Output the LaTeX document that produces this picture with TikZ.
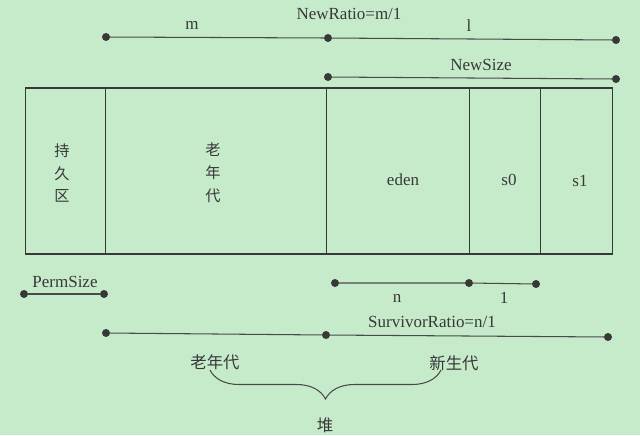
\documentclass[tikz,border=0pt]{standalone}
\usepackage{fontspec}
\setmainfont{Liberation Serif}
\newfontfamily\cjk{Noto Sans CJK SC}
\usetikzlibrary{positioning,decorations.pathreplacing}
\definecolor{bggreen}{HTML}{C6EBCB}
\definecolor{ink}{HTML}{383838}
\definecolor{rule}{HTML}{4A4A4A}

\begin{document}
\begin{tikzpicture}
  [x=0.03cm,y=-0.03cm,
   every node/.style={inner sep=0pt,text=ink},
   cell/.style={draw=ink,line width=1pt,minimum height=4.98cm,outer sep=0pt,anchor=north west},
   dot/.style={circle,fill=ink,minimum size=0.24cm},
   span/.style={draw=rule,line width=0.9pt},
   lbl/.style={font=\fontsize{14.5}{17}\selectfont},
   zh/.style={font=\fontsize{14}{16}\selectfont\cjk},
   zhcol/.style={align=center,font=\fontsize{13}{19.5}\selectfont\cjk}]

  \fill[bggreen] (0,0) rectangle (640,435);
  \useasboundingbox (0,0) rectangle (640,435);

  % NewRatio
  \node[dot] (m0) at (106,37) {};
  \node[dot] (m1) at (328,38) {};
  \node[dot] (m2) at (616,40) {};
  \draw[span] (m0) -- (m1) -- (m2);
  \node[lbl] (newratio) at (349,14) {NewRatio=m/1};
  \node[lbl] (mlbl) at (192,25) {m};
  \node[lbl] (llbl) at (469,26) {l};

  % NewSize
  \node[dot] (ns0) at (328,77) {};
  \node[dot] (ns1) at (616,79) {};
  \draw[span] (ns0) -- (ns1);
  \node[lbl] (newsize) at (481,65) {NewSize};

  % heap
  \node[cell,minimum width=2.4cm] (perm) at (25.5,88) {};
  \node[cell,minimum width=6.63cm,right=0pt of perm] (old) {};
  \node[cell,minimum width=4.29cm,right=0pt of old] (eden) {};
  \node[cell,minimum width=2.13cm,right=0pt of eden] (szero) {};
  \node[cell,minimum width=2.16cm,right=0pt of szero] (sone) {};

  \node[zhcol] (permlbl) at (62,173) {持\\久\\区};
  \node[zhcol] (oldlbl) at (213,173) {老\\年\\代};
  \node[lbl] (edenlbl) at (403,180) {eden};
  \node[lbl] (szerolbl) at (509,180) {s0};
  \node[lbl] (sonelbl) at (580,181) {s1};

  % PermSize
  \node[dot] (p0) at (24,294) {};
  \node[dot] (p1) at (104,294) {};
  \draw[span] (p0) -- (p1);
  \node[lbl] (permsize) at (65,282) {PermSize};

  % n : 1
  \node[dot] (n0) at (335,283) {};
  \node[dot] (n1) at (469,283) {};
  \node[dot] (n2) at (536,284) {};
  \draw[span] (n0) -- (n1) -- (n2);
  \node[lbl] (nlbl) at (397,298) {n};
  \node[lbl] (onelbl) at (504,298) {1};

  % SurvivorRatio
  \node[dot] (s0) at (106,333) {};
  \node[dot] (s1) at (326,335) {};
  \node[dot] (s2) at (608,337) {};
  \draw[span] (s0) -- (s1) -- (s2);
  \node[lbl] (survratio) at (432,322) {SurvivorRatio=n/1};

  \node[zh] (oldgen) at (215,362) {老年代};
  \node[zh] (newgen) at (454,363) {新生代};
  \coordinate (bl) at (210,370);
  \coordinate (br) at (441,370);
  \draw[span,decorate,decoration={brace,amplitude=0.87cm}] (br) -- (bl);
  \node[zh] (heap) at (325,425) {堆};
\end{tikzpicture}
\end{document}
